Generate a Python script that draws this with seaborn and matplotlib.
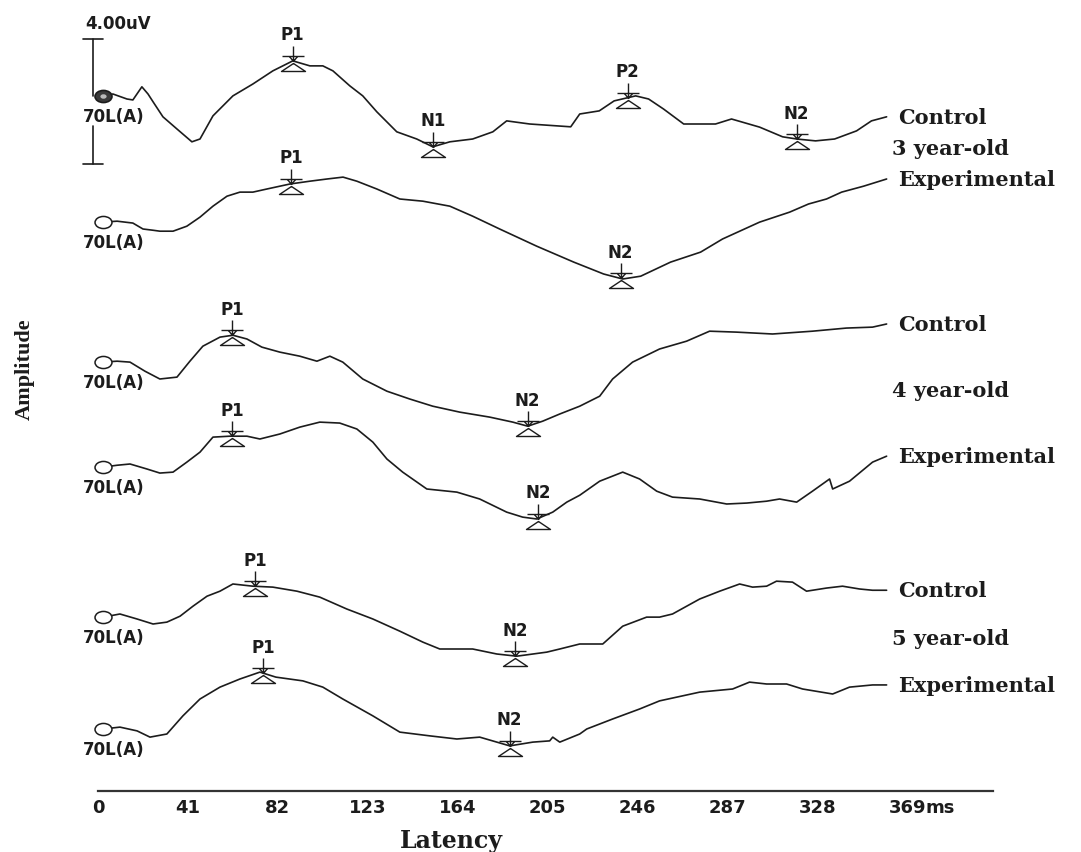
import numpy as np
import pandas as pd
import seaborn as sns
import matplotlib.pyplot as plt
from matplotlib.path import Path
from matplotlib.transforms import Affine2D

sns.set_style('white')
plt.rcParams['font.family'] = ['DejaVu Sans']

# latency (ms) and amplitude (uV, relative to each trace's start)
ctrl3_lat = [2.3, 6.8, 13.2, 15.9, 20.0, 22.8, 25.1, 29.6, 36.0, 42.8, 46.5, 52.4, 61.5, 70.6, 79.7, 88.8,
             96.6, 102.5, 107.1, 114.8, 120.7, 127.1, 136.2, 145.3, 152.6, 160.4, 170.8, 180.0, 186.3, 196.8,
             215.5, 219.6, 228.5, 235.3, 245.1, 251.0, 257.8, 267.0, 281.5, 288.8, 301.6, 312.1, 318.5, 327.1,
             335.8, 345.8, 352.6, 359.5]
ctrl3_amp = [0.00, 0.06, -0.10, -0.13, 0.29, 0.06, -0.19, -0.67, -1.06, -1.47, -1.38, -0.64, 0.00, 0.38, 0.80, 1.12,
             0.96, 0.96, 0.80, 0.32, 0.00, -0.51, -1.15, -1.38, -1.63, -1.47, -1.38, -1.15, -0.80, -0.90,
             -0.99, -0.58, -0.48, -0.16, 0.00, -0.10, -0.42, -0.90, -0.90, -0.74, -1.00, -1.31, -1.38, -1.44,
             -1.38, -1.12, -0.80, -0.67]

exp3_lat = [2.3, 8.7, 15.9, 20.5, 25.1, 28.2, 34.2, 40.5, 46.5, 52.4, 58.8, 64.7, 70.6, 77.0, 87.5, 96.6,
            104.4, 111.7, 118.0, 127.1, 137.6, 148.1, 160.4, 170.8, 183.1, 200.0, 216.9, 230.5, 239.2, 247.4,
            261.0, 274.7, 284.7, 301.6, 315.3, 323.9, 332.1, 339.0, 349.0, 359.5]
exp3_amp = [0.00, 0.03, -0.03, -0.22, -0.26, -0.29, -0.29, -0.13, 0.16, 0.51, 0.83, 0.96, 0.96, 1.06, 1.22, 1.31,
            1.38, 1.44, 1.31, 1.06, 0.74, 0.67, 0.51, 0.19, -0.22, -0.77, -1.28, -1.66, -1.82, -1.73,
            -1.28, -0.96, -0.54, 0.00, 0.32, 0.58, 0.74, 0.96, 1.15, 1.38]

ctrl4_lat = [2.3, 8.7, 14.6, 21.4, 28.2, 36.0, 41.9, 47.8, 55.6, 61.5, 67.9, 74.7, 82.9, 92.0, 99.8, 105.7,
             111.6, 120.7, 131.7, 142.1, 152.6, 164.9, 178.6, 189.1, 195.9, 202.7, 210.5, 219.6, 228.7, 234.6,
             243.7, 256.0, 268.3, 278.8, 291.1, 307.5, 325.7, 341.2, 353.1, 359.5]
ctrl4_amp = [0.00, 0.03, 0.00, -0.29, -0.54, -0.48, 0.03, 0.51, 0.80, 0.86, 0.74, 0.48, 0.32, 0.19, 0.03, 0.19,
             0.00, -0.54, -0.93, -1.18, -1.41, -1.60, -1.76, -1.92, -2.05, -1.89, -1.66, -1.41, -1.09, -0.54,
             0.00, 0.42, 0.67, 0.99, 0.96, 0.90, 0.99, 1.09, 1.12, 1.22]

exp4_lat = [2.3, 8.7, 14.6, 22.3, 28.2, 34.2, 40.5, 46.5, 52.4, 60.1, 67.9, 73.8, 82.9, 92.0, 101.1, 110.2,
            118.0, 125.3, 131.7, 138.9, 149.9, 163.6, 174.0, 186.3, 193.6, 200.0, 207.3, 213.7, 219.6, 228.7,
            239.2, 246.9, 254.7, 261.9, 274.3, 286.6, 295.7, 304.8, 310.7, 318.5, 325.7, 333.5, 334.9, 342.6,
            353.1, 359.5]
exp4_amp = [0.00, 0.06, 0.10, -0.06, -0.19, -0.16, 0.16, 0.48, 0.96, 0.99, 0.99, 0.90, 1.06, 1.28, 1.44, 1.41,
            1.22, 0.80, 0.26, -0.16, -0.70, -0.80, -1.02, -1.44, -1.60, -1.66, -1.44, -1.12, -0.90, -0.45,
            -0.16, -0.38, -0.77, -0.96, -1.02, -1.18, -1.15, -1.09, -1.02, -1.12, -0.77, -0.38, -0.70, -0.45,
            0.16, 0.35]

ctrl5_lat = [2.3, 10.0, 17.8, 25.1, 31.4, 37.4, 43.3, 49.7, 55.6, 61.5, 70.6, 79.7, 90.7, 101.1, 113.4, 125.3,
             137.6, 148.1, 155.8, 170.8, 181.8, 190.9, 204.6, 210.5, 219.6, 230.1, 239.2, 250.1, 256.0, 261.9,
             274.3, 283.4, 292.5, 298.4, 304.8, 309.3, 316.6, 323.0, 332.1, 339.4, 347.2, 353.1, 359.5]
ctrl5_amp = [0.00, 0.10, -0.06, -0.22, -0.16, 0.03, 0.35, 0.67, 0.83, 1.06, 0.99, 0.96, 0.83, 0.64, 0.26, -0.06,
             -0.45, -0.80, -1.02, -1.02, -1.18, -1.25, -1.12, -1.02, -0.86, -0.86, -0.29, 0.00, 0.00, 0.10,
             0.58, 0.83, 1.06, 0.96, 0.99, 1.15, 1.12, 0.83, 0.93, 0.99, 0.90, 0.86, 0.86]

exp5_lat = [2.3, 10.0, 17.8, 23.7, 31.4, 38.7, 46.5, 55.6, 64.7, 73.8, 81.1, 93.4, 102.5, 111.6, 125.3, 137.6,
            151.3, 163.6, 174.0, 187.7, 198.2, 205.9, 207.3, 210.5, 219.6, 222.8, 234.6, 246.9, 256.0, 274.3,
            289.3, 297.0, 304.8, 313.9, 321.2, 334.9, 342.6, 353.1, 359.5]
exp5_amp = [0.00, 0.06, -0.06, -0.26, -0.16, 0.42, 0.96, 1.34, 1.60, 1.82, 1.66, 1.54, 1.34, 0.96, 0.42, -0.10,
            -0.22, -0.32, -0.26, -0.54, -0.42, -0.38, -0.26, -0.42, -0.16, 0.00, 0.32, 0.64, 0.90, 1.18,
            1.28, 1.50, 1.44, 1.44, 1.28, 1.12, 1.34, 1.41, 1.41]

# marked peaks
ctrl3_peaks, ctrl3_peak_lat = ['P1', 'N1', 'P2', 'N2'], [88.8, 152.6, 241.5, 318.5]
exp3_peaks, exp3_peak_lat = ['P1', 'N2'], [87.9, 238.3]
ctrl4_peaks, ctrl4_peak_lat = ['P1', 'N2'], [61.1, 195.9]
exp4_peaks, exp4_peak_lat = ['P1', 'N2'], [61.1, 200.5]
ctrl5_peaks, ctrl5_peak_lat = ['P1', 'N2'], [71.5, 190.0]
exp5_peaks, exp5_peak_lat = ['P1', 'N2'], [75.2, 187.7]

groups = ['3 year-old', '4 year-old', '5 year-old']
conditions = ['Control', 'Experimental']
channel = '70L(A)'
xticks = [0, 41, 82, 123, 164, 205, 246, 287, 328, 369]
scale_uv = 4.0

# layout: vertical stacking of the six traces (uV below the top edge)
offsets = [-3.10, -7.14, -11.62, -14.98, -19.78, -23.36]
INK = '#1c1c1c'

traces = [
    (ctrl3_lat, ctrl3_amp, ctrl3_peaks, ctrl3_peak_lat),
    (exp3_lat, exp3_amp, exp3_peaks, exp3_peak_lat),
    (ctrl4_lat, ctrl4_amp, ctrl4_peaks, ctrl4_peak_lat),
    (exp4_lat, exp4_amp, exp4_peaks, exp4_peak_lat),
    (ctrl5_lat, ctrl5_amp, ctrl5_peaks, ctrl5_peak_lat),
    (exp5_lat, exp5_amp, exp5_peaks, exp5_peak_lat),
]

frames = []
for i, (lat, amp, _, _) in enumerate(traces):
    frames.append(pd.DataFrame({'latency': lat,
                                'y': np.array(amp) + offsets[i],
                                'trace': i}))
df = pd.concat(frames, ignore_index=True)

fig = plt.figure(figsize=(10.81, 8.53), dpi=100)
ax = fig.add_axes([98 / 1081, 61 / 853, 895 / 1081, 792 / 853])

sns.lineplot(data=df, x='latency', y='y', units='trace', estimator=None, sort=False,
             color=INK, linewidth=1.2, legend=False, ax=ax)

ax.set_xlim(0, 408)
ax.set_ylim(-792 / 31.25, 0)

# start circle (stretched ellipse) and peak marker (arrow above, triangle below)
ellipse = Path.unit_circle().transformed(Affine2D().scale(1.4, 1.0))
M, L = Path.MOVETO, Path.LINETO
peak_mark = Path([(0, 15), (0, 0), (-4, 5), (0, 0), (4, 5), (-11, 5), (11, 5),
                  (0, -2), (-12, -10), (12, -10), (0, -2)],
                 [M, L, M, L, L, M, L, M, L, L, L])

for i, (lat, amp, pk_names, pk_lat) in enumerate(traces):
    off = offsets[i]
    y = np.array(amp) + off
    if i == 0:
        ax.plot([lat[0]], [off], marker=ellipse, ms=12.2, mfc='#3a3a3a', mec=INK, mew=1.2,
                ls='none', zorder=6, clip_on=False)
        ax.plot([lat[0]], [off], marker=ellipse, ms=4.5, mfc='#bbbbbb', mec='none',
                ls='none', zorder=7, clip_on=False)
    else:
        ax.plot([lat[0]], [off], marker=ellipse, ms=12.2, mfc='white', mec=INK, mew=1.1,
                ls='none', zorder=6, clip_on=False)
    ax.annotate(channel, (lat[0], off), xytext=(-14.4, -14.4), textcoords='offset points',
                ha='left', va='center', fontsize=12, fontweight='bold', color=INK)

    for name, t in zip(pk_names, pk_lat):
        yp = np.interp(t, lat, y)
        ax.plot([t], [yp], marker=peak_mark, ms=21.6, mfc='none', mec=INK, mew=1.0,
                ls='none', zorder=5)
        ax.annotate(name, (t, yp), xytext=(0, 19), textcoords='offset points',
                    ha='center', va='center', fontsize=12, fontweight='bold', color=INK)

    ax.annotate(conditions[i % 2], (lat[-1], y[-1]), xytext=(8, 0), textcoords='offset points',
                ha='left', va='center', fontsize=15, fontweight='bold', color=INK,
                family=['DejaVu Serif'])

# group labels between the control and experimental ends
for g, name in enumerate(groups):
    c_lat, c_amp = traces[2 * g][0], traces[2 * g][1]
    e_amp = traces[2 * g + 1][1]
    ymid = (c_amp[-1] + offsets[2 * g] + e_amp[-1] + offsets[2 * g + 1]) / 2
    ax.annotate(name, (c_lat[-1], ymid), xytext=(4, 0), textcoords='offset points',
                ha='left', va='center', fontsize=15, fontweight='bold', color=INK,
                family=['DejaVu Serif'])

# amplitude scale bar
bar_x = -2.28
bar_top = offsets[0] + 1.82
bar_bot = bar_top - scale_uv
ax.plot([bar_x, bar_x], [bar_top, offsets[0]], color=INK, lw=1.2, clip_on=False)
ax.plot([bar_x, bar_x], [offsets[0] - 0.96, bar_bot], color=INK, lw=1.2, clip_on=False)
for yy in (bar_top, bar_bot):
    ax.plot([bar_x - 4.6, bar_x + 4.6], [yy, yy], color=INK, lw=1.2, clip_on=False)
ax.text(-5.9, offsets[0] + 2.34, f'{scale_uv:.2f}uV', ha='left', va='center',
        fontsize=12, fontweight='bold', color=INK)

# latency axis
for side in ['top', 'left', 'right']:
    ax.spines[side].set_visible(False)
ax.spines['bottom'].set_color('#333333')
ax.spines['bottom'].set_linewidth(1.6)
ax.set_yticks([])
ax.set_xticks(xticks)
ax.set_xticklabels([str(t) for t in xticks])
ax.tick_params(axis='x', direction='in', length=4, width=1.2, color='#333333', pad=5,
               labelsize=13, labelcolor=INK)
for lab in ax.get_xticklabels():
    lab.set_fontweight('bold')
ax.annotate('ms', (xticks[-1], 0), xycoords=('data', 'axes fraction'), xytext=(13.2, -5),
            textcoords='offset points', ha='left', va='top', fontsize=13, fontweight='bold',
            color=INK)
ax.set_xlabel('')
ax.set_ylabel('')

fig.text(451 / 1081, 1 - 841 / 853, 'Latency', ha='center', va='center', fontsize=17,
         fontweight='bold', color=INK, family=['DejaVu Serif'])
fig.text(25 / 1081, 1 - 369 / 853, 'Amplitude', ha='center', va='center', rotation=90,
         fontsize=16, fontweight='bold', color=INK, family=['Liberation Serif'])

fig.savefig('out.png', dpi=100)
